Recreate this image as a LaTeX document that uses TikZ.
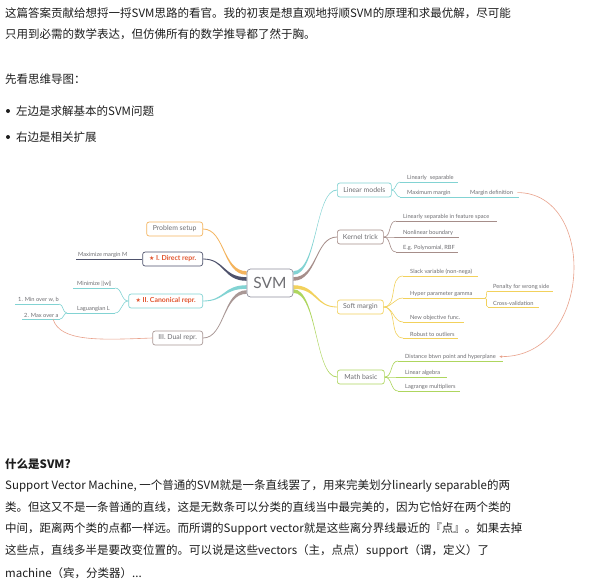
\documentclass[tikz,border=0pt]{standalone}
\usepackage{fontspec}
\setmainfont{Noto Sans CJK SC}
\newfontfamily\mapfont{Lato}
\newfontfamily\symfont{DejaVu Sans}
\usetikzlibrary{arrows.meta}
\pgfdeclarelayer{paper}
\pgfdeclarelayer{branches}
\pgfsetlayers{paper,branches,main}
\definecolor{bodytext}{HTML}{1E1E1E}
\definecolor{mapgray}{HTML}{6E6E72}
\definecolor{svmgray}{HTML}{8E8E9C}
\definecolor{redc}{HTML}{E2552F}
\definecolor{orangec}{HTML}{F4B45E}
\definecolor{navyc}{HTML}{4E526C}
\definecolor{tealc}{HTML}{82D3D3}
\definecolor{dualc}{HTML}{A99896}
\definecolor{brownc}{HTML}{A68E8A}
\definecolor{yellowc}{HTML}{F2D15C}
\definecolor{greenc}{HTML}{AED65E}
\definecolor{salmonc}{HTML}{E9A28C}
\tikzset{
  body/.style={anchor=west, inner sep=0pt, text=bodytext, font=\fontsize{11.5}{14}\selectfont},
  topic/.style={draw=#1, line width=0.7pt, rounded corners=2.5pt, fill=white, minimum height=14pt,
    inner xsep=3pt, inner ysep=0pt, text=mapgray, font=\mapfont\fontsize{6.9}{8}\selectfont},
  star/.style={text=redc, font=\mapfont\bfseries\fontsize{6.9}{8}\selectfont},
  leaf/.style={anchor=south west, inner xsep=0pt, inner ysep=1.6pt, text=mapgray,
    font=\mapfont\fontsize{5.7}{6.5}\selectfont},
  twig/.style={draw=#1, line width=0.6pt},
  rel/.style={draw=salmonc, line width=0.6pt}
}
\begin{document}
\begin{tikzpicture}[x=1pt,y=-1pt]
\useasboundingbox (0,0) rectangle (594,584);
\begin{pgfonlayer}{paper}
\fill[white] (0,0) rectangle (594,584);
\end{pgfonlayer}

\node[body] (t1) at (5,13) {这篇答案贡献给想捋一捋SVM思路的看官。我的初衷是想直观地捋顺SVM的原理和求最优解，尽可能};
\node[body] (t2) at (5,34) {只用到必需的数学表达，但仿佛所有的数学推导都了然于胸。};
\node[body] (t3) at (5,79) {先看思维导图：};
\node[body] (b1) at (16,111) {左边是求解基本的SVM问题};
\node[body] (b2) at (16,137) {右边是相关扩展};
\fill[bodytext] (8,111) circle (2pt);
\fill[bodytext] (8,137) circle (2pt);

\node[body, font=\bfseries\fontsize{11.5}{14}\selectfont] (h) at (5,464) {什么是SVM?};
\node[body] (p1) at (5,486) {Support Vector Machine, 一个普通的SVM就是一条直线罢了，用来完美划分linearly separable的两};
\node[body] (p2) at (5,507) {类。但这又不是一条普通的直线，这是无数条可以分类的直线当中最完美的，因为它恰好在两个类的};
\node[body] (p3) at (5,529) {中间，距离两个类的点都一样远。而所谓的Support vector就是这些离分界线最近的『点』。如果去掉};
\node[body] (p4) at (5,551) {这些点，直线多半是要改变位置的。可以说是这些vectors（主，点点）support（谓，定义）了};
\node[body] (p5) at (5,573) {machine（宾，分类器）...};

\node[topic=svmgray, minimum width=46pt, minimum height=28pt, rounded corners=3.5pt,
  font=\mapfont\fontsize{15.5}{18}\selectfont] (svm) at (270,283) {SVM};

\node[topic=orangec, anchor=east, minimum width=56pt] (setup) at (203,229) {Problem setup};
\node[topic=navyc, anchor=east, minimum width=60pt, star] (direct) at (203,259) {{\symfont\fontsize{6}{8}\selectfont ★} I. Direct repr.};
\node[topic=tealc, anchor=east, minimum width=74pt, star] (canon) at (203,301) {{\symfont\fontsize{6}{8}\selectfont ★} II. Canonical repr.};
\node[topic=dualc, anchor=east, minimum width=50pt] (dual) at (203,338) {III. Dual repr.};

\node[topic=tealc, anchor=west, minimum width=54pt] (linear) at (337,190) {Linear models};
\node[topic=brownc, anchor=west, minimum width=46pt] (kernel) at (337,237) {Kernel trick};
\node[topic=yellowc, anchor=west, minimum width=46pt] (soft) at (337,307) {Soft margin};
\node[topic=greenc, anchor=west, minimum width=47pt] (math) at (337,377) {Math basic};

\begin{pgfonlayer}{branches}
\foreach \c/\s/\n in {orangec/10/setup, navyc/4/direct, tealc/-4/canon, dualc/-9/dual}
  \fill[\c] ([yshift={\s*1pt+1.8pt}]svm.west) .. controls +(-24,0) and +(22,0) .. ([yshift=0.4pt]\n.east)
    -- ([yshift=-0.4pt]\n.east) .. controls +(22,0) and +(-24,0) .. ([yshift={\s*1pt-1.8pt}]svm.west) -- cycle;
\foreach \c/\s/\n in {tealc/10/linear, brownc/4/kernel, yellowc/-4/soft, greenc/-8/math}
  \fill[\c] ([yshift={\s*1pt+1.8pt}]svm.east) .. controls +(24,0) and +(-22,0) .. ([yshift=0.4pt]\n.west)
    -- ([yshift=-0.4pt]\n.west) .. controls +(-22,0) and +(24,0) .. ([yshift={\s*1pt-1.8pt}]svm.east) -- cycle;
\end{pgfonlayer}

\node[leaf] (maxM) at (78,259) {Maximize margin M};
\node[leaf] (minw) at (77,288) {Minimize ||w||};
\node[leaf] (lagL) at (77,313) {Laguangian L};
\node[leaf] (min1) at (18,304) {1. Min over w, b};
\node[leaf] (max2) at (24,319) {2. Max over a};

\node[leaf] (lsep) at (407,182) {Linearly\ \ separable};
\node[leaf] (maxm) at (407,197) {Maximum margin};
\node[leaf] (mdef) at (470,197) {Margin definition};
\node[leaf] (lsfs) at (403,221) {Linearly separable in feature space};
\node[leaf] (nonl) at (403,237) {Nonlinear boundary};
\node[leaf] (poly) at (403,252) {E.g. Polynomial, RBF};
\node[leaf] (slack) at (410,276) {Slack variable (non-nega)};
\node[leaf] (hyper) at (410,298) {Hyper parameter gamma};
\node[leaf] (pen) at (493,291) {Penalty for wrong side};
\node[leaf] (cross) at (493,307) {Cross-validation};
\node[leaf] (newobj) at (410,322) {New objective func.};
\node[leaf] (robust) at (410,338) {Robust to outliers};
\node[leaf] (dist) at (405,361) {Distance btwn point and hyperplane};
\node[leaf] (linalg) at (405,377) {Linear algebra};
\node[leaf] (lagr) at (405,391) {Lagrange multipliers};

\draw[twig=navyc] ([xshift=-2pt]maxM.south west) -- (direct.west);
\foreach \n/\d/\l in {minw/4/42, lagL/10/48, min1/3/44, max2/2/38}
  \draw[twig=tealc] ([xshift=-\d pt]\n.south west) -- ++(\l,0);
\foreach \n in {minw, lagL}
  \draw[twig=tealc] (canon.west) to[out=180,in=0] ([xshift=38pt]\n.south west);
\draw[twig=tealc] ([xshift=-10pt]lagL.south west) to[out=180,in=0] ([xshift=41pt]min1.south west);
\draw[twig=tealc] ([xshift=-10pt]lagL.south west) to[out=180,in=0] ([xshift=36pt]max2.south west);

\foreach \n/\d/\l in {lsep/7/58, maxm/7/62, mdef/8/57}
  \draw[twig=tealc] ([xshift=-\d pt]\n.south west) -- ++(\l,0);
\foreach \n in {lsep, maxm}
  \draw[twig=tealc] (linear.east) to[out=0,in=180] ([xshift=-7pt]\n.south west);
\foreach \n/\l in {lsfs/101, nonl/63, poly/62}
  \draw[twig=brownc] ([xshift=-7pt]\n.south west) -- ++(\l,0);
\foreach \n in {lsfs, nonl, poly}
  \draw[twig=brownc] (kernel.east) to[out=0,in=180] ([xshift=-7pt]\n.south west);
\foreach \n/\d/\l in {slack/7/75, hyper/7/82, newobj/7/61, robust/7/55, pen/5/65, cross/5/51}
  \draw[twig=yellowc] ([xshift=-\d pt]\n.south west) -- ++(\l,0);
\foreach \n in {slack, hyper, newobj, robust}
  \draw[twig=yellowc] (soft.east) to[out=0,in=180] ([xshift=-7pt]\n.south west);
\foreach \n in {pen, cross}
  \draw[twig=yellowc] ([xshift=75pt]hyper.south west) to[out=0,in=180] ([xshift=-5pt]\n.south west);
\foreach \n/\l in {dist/105, linalg/49, lagr/62}
  \draw[twig=greenc] ([xshift=-7pt]\n.south west) -- ++(\l,0);
\foreach \n in {dist, linalg, lagr}
  \draw[twig=greenc] (math.east) to[out=0,in=180] ([xshift=-7pt]\n.south west);

\draw[rel, -{Latex[length=3pt,width=2.6pt]}] ([xshift=4pt]mdef.east) .. controls +(80,0) and +(94,0) .. ([xshift=3pt]dist.east);
\draw[rel] ([xshift=29pt]max2.south west) .. controls +(7,23) and +(-53,2) .. (dual.west);
\end{tikzpicture}
\end{document}
